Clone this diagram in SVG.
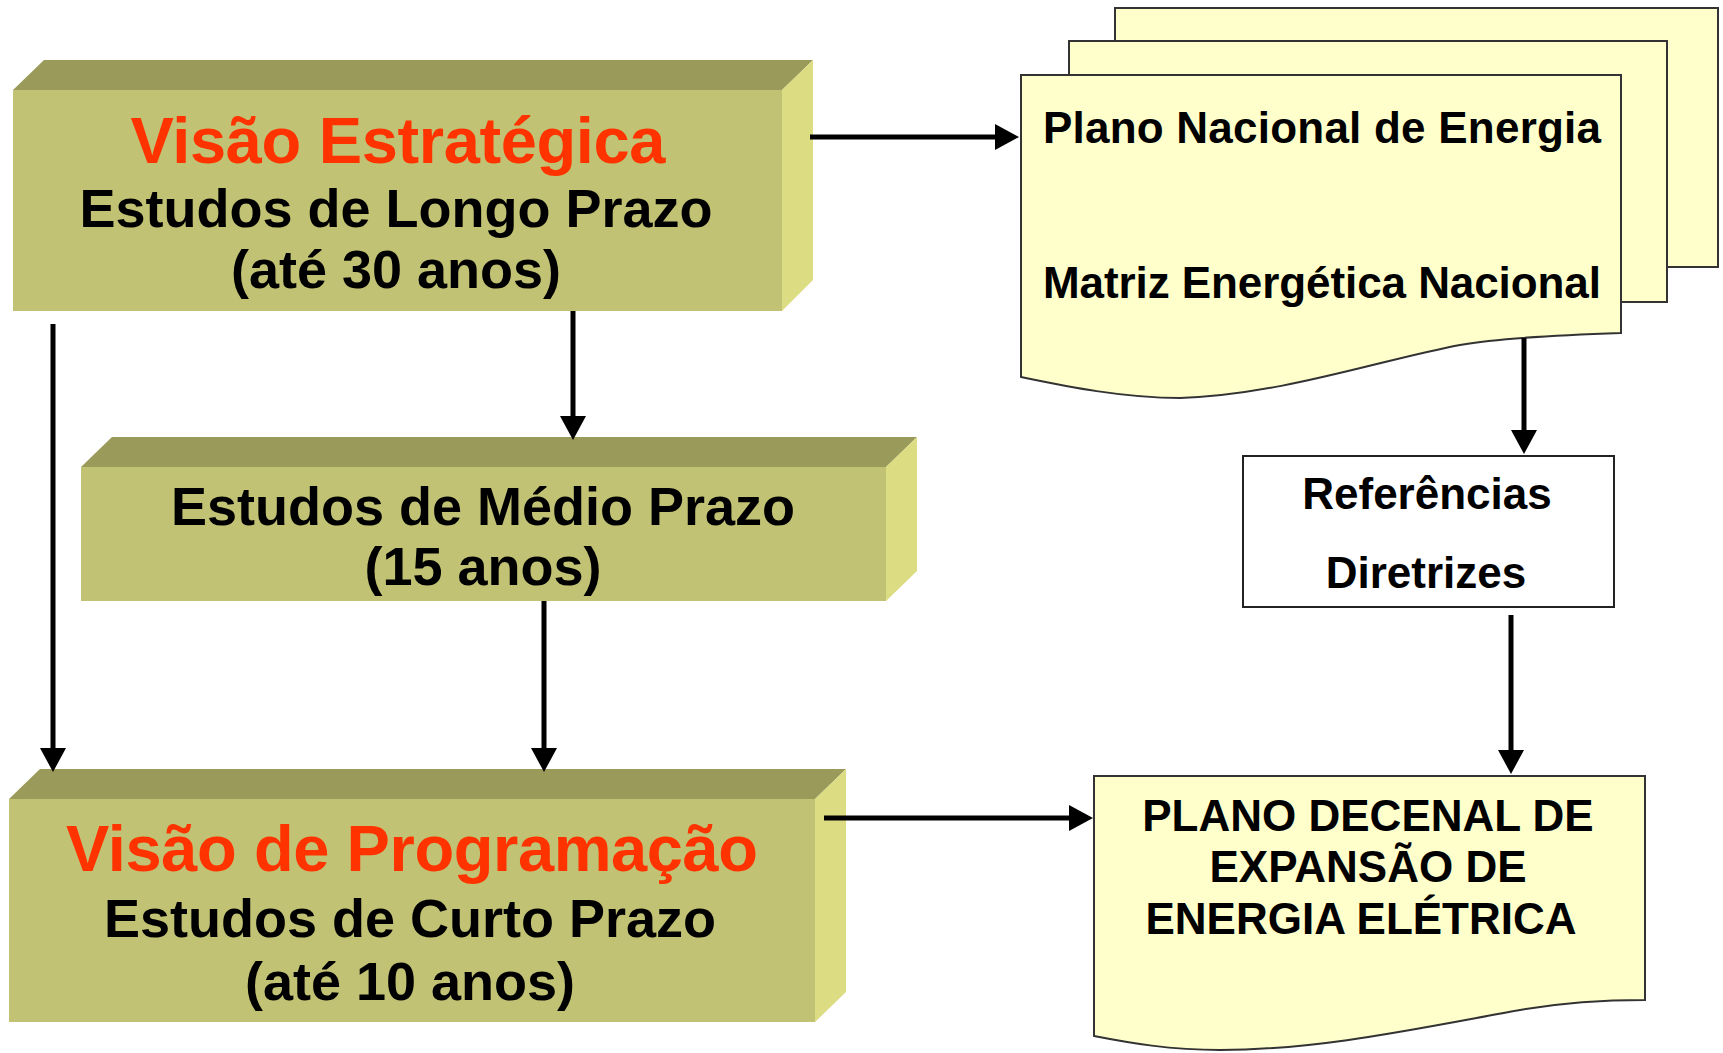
<svg xmlns="http://www.w3.org/2000/svg" width="1723" height="1053" viewBox="0 0 1723 1053">
<style>
.front{fill:#C2C274}
.top{fill:#9A9A5B}
.side{fill:#DCDC82}
.doc{fill:#FFFFCC;stroke:#333333;stroke-width:2}
.box{fill:#FFFFFF;stroke:#222222;stroke-width:2}
text{font-family:"Liberation Sans",Arial,sans-serif;font-weight:bold;text-anchor:middle}
.red{fill:#FF3300;font-size:65px}
.big{fill:#000;font-size:54px}
.mid{fill:#000;font-size:44px}
.conn{stroke:#000;stroke-width:5;fill:none;marker-end:url(#ah)}
</style>
<defs>
<marker id="ah" markerUnits="userSpaceOnUse" markerWidth="26" markerHeight="28" refX="14" refY="13" orient="auto">
<path d="M0,0 L24,13 L0,26 Z" fill="#000"/>
</marker>
</defs>
<rect width="1723" height="1053" fill="#FFFFFF"/>

<g id="visao-estrategica">
<polygon class="top" points="13,90 44,60 813,60 782,90"/>
<polygon class="side" points="782,90 813,60 813,280 782,311"/>
<rect class="front" x="13" y="90" width="769" height="221"/>
<text class="red" x="398" y="163" textLength="535">Visão Estratégica</text>
<text class="big" x="396" y="227">Estudos de Longo Prazo</text>
<text class="big" x="396" y="288">(até 30 anos)</text>
</g>

<g id="medio-prazo">
<polygon class="top" points="81,467 112,437 917,437 886,467"/>
<polygon class="side" points="886,467 917,437 917,571 886,601"/>
<rect class="front" x="81" y="467" width="805" height="134"/>
<text class="big" x="483" y="525">Estudos de Médio Prazo</text>
<text class="big" x="483" y="585">(15 anos)</text>
</g>

<g id="visao-programacao">
<polygon class="top" points="9,799 40,769 846,769 815,799"/>
<polygon class="side" points="815,799 846,769 846,992 815,1022"/>
<rect class="front" x="9" y="799" width="806" height="223"/>
<text class="red" x="412" y="871" textLength="692">Visão de Programação</text>
<text class="big" x="410" y="937">Estudos de Curto Prazo</text>
<text class="big" x="410" y="1000">(até 10 anos)</text>
</g>

<g id="plano-nacional">
<rect class="doc" x="1115" y="8" width="603" height="259"/>
<rect class="doc" x="1069" y="41" width="598" height="261"/>
<path class="doc" d="M1021,75 L1621,75 L1621,333 C1560,335 1500,338 1460,345 C1380,360 1280,395 1180,398 C1120,398 1060,385 1021,377 Z"/>
<text class="mid" x="1322" y="143" textLength="558">Plano Nacional de Energia</text>
<text class="mid" x="1322" y="298" textLength="558">Matriz Energética Nacional</text>
</g>

<g id="referencias">
<rect class="box" x="1243" y="456" width="371" height="151"/>
<text class="mid" x="1427" y="509">Referências</text>
<text class="mid" x="1426" y="588">Diretrizes</text>
</g>

<g id="plano-decenal">
<path class="doc" d="M1094,776 L1645,776 L1645,1000 C1600,1000 1560,1003 1520,1010 C1420,1028 1320,1050 1220,1050 C1170,1050 1130,1043 1094,1036 Z"/>
<text class="mid" x="1368" y="831">PLANO DECENAL DE</text>
<text class="mid" x="1368" y="882">EXPANSÃO DE</text>
<text class="mid" x="1361" y="934">ENERGIA ELÉTRICA</text>
</g>

<g id="connectors">
<line class="conn" x1="810" y1="137" x2="1009" y2="137"/>
<line class="conn" x1="573" y1="311" x2="573" y2="430"/>
<line class="conn" x1="53" y1="324" x2="53" y2="762"/>
<line class="conn" x1="544" y1="601" x2="544" y2="762"/>
<line class="conn" x1="1524" y1="338" x2="1524" y2="444"/>
<line class="conn" x1="1511" y1="615" x2="1511" y2="764"/>
<line class="conn" x1="824" y1="818" x2="1083" y2="818"/>
</g>
</svg>
